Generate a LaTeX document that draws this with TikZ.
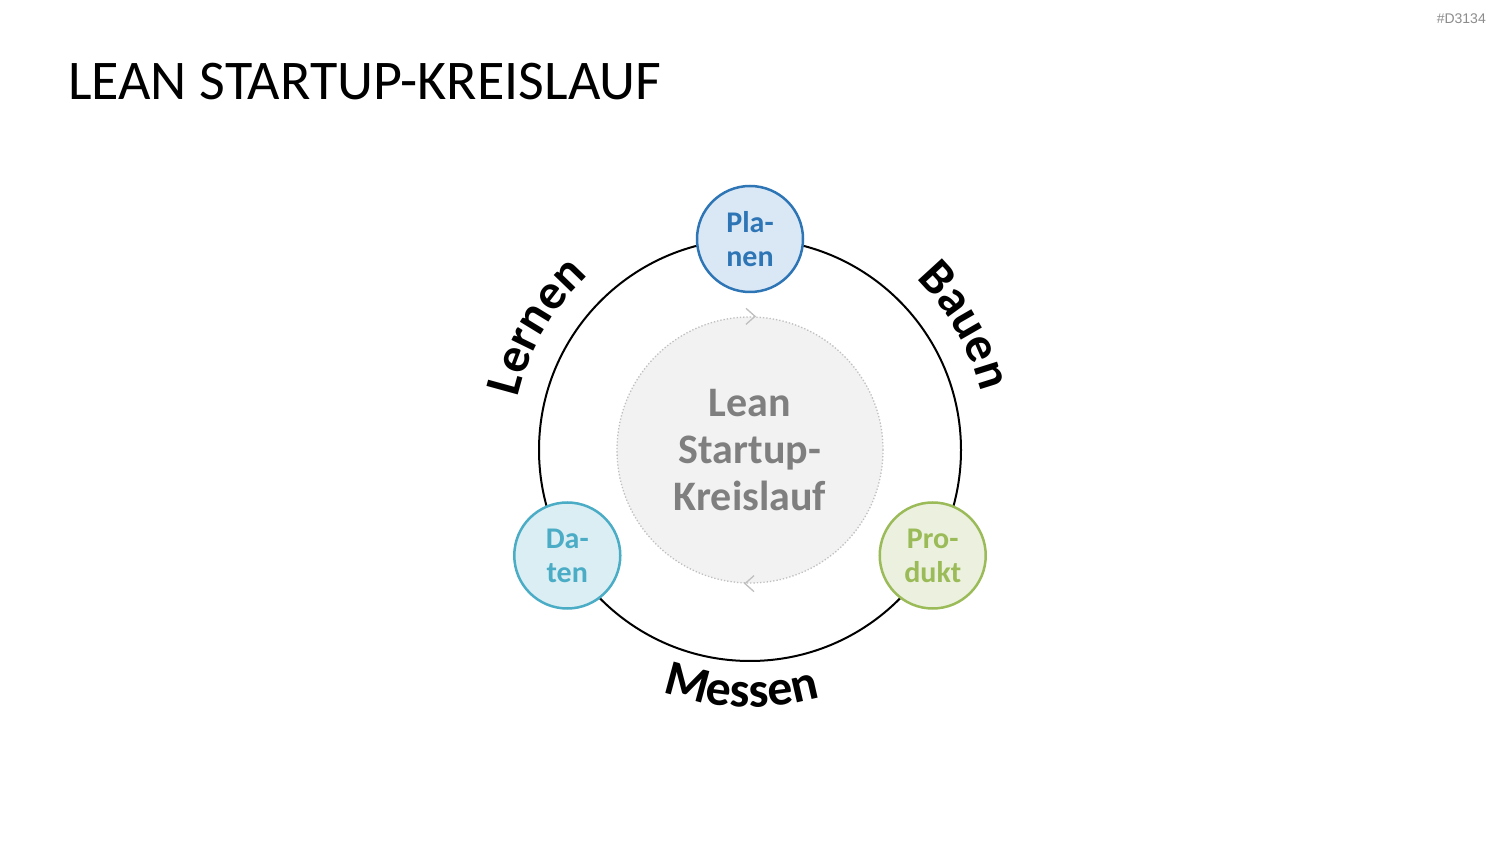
\documentclass[tikz,border=0pt]{standalone}
\usepackage{fontspec}
\setmainfont{Carlito}
\newfontfamily\tagfont{Liberation Sans}
\usetikzlibrary{decorations.text,calc}
\definecolor{planC}{HTML}{2E75B6}
\definecolor{planF}{HTML}{DAE8F6}
\definecolor{datC}{HTML}{4BACC6}
\definecolor{datF}{HTML}{DAEEF3}
\definecolor{proC}{HTML}{9BBB59}
\definecolor{proF}{HTML}{EBF1DE}
\definecolor{innerF}{HTML}{F2F2F2}
\definecolor{innerD}{HTML}{BFBFBF}
\definecolor{innerT}{HTML}{7F7F7F}
\definecolor{tagC}{HTML}{8C8C8C}
\newcommand\curvefont{\fontsize{50}{54}\selectfont\bfseries}
\begin{document}
\begin{tikzpicture}[x=1pt,y=1pt,
  stagebox/.style={circle, draw=#1, line width=2.5pt, minimum size=106pt,
    inner sep=0pt, align=center, font=\fontsize{30}{34}\selectfont\bfseries, text=#1},
  ringbox/.style={circle, draw=black, line width=2pt, minimum size=422pt, inner sep=0pt},
  corebox/.style={circle, fill=innerF, draw=innerD, dotted, line width=1.3pt,
    minimum size=266pt, inner sep=0pt, align=center, text=innerT,
    font=\fontsize{42}{47}\selectfont\bfseries},
  chev/.style={draw=innerD, line width=1.3pt},
  curvelabel/.style={decorate, decoration={text along path, text={|\curvefont|#1}, text align=center}}
]
\useasboundingbox (0,0) rectangle (1500,844);
\fill[white] (0,0) rectangle (1500,844);

\node[anchor=base east, inner sep=0pt, text=tagC, font=\tagfont\fontsize{14}{14}\selectfont] (tag) at (1486,820) {\#D3134};
\node[anchor=base west, inner sep=0pt, font=\fontsize{56}{60}\selectfont] (title) at (68,744) {LEAN STARTUP-KREISLAUF};

\coordinate (c) at (750,394);
\node[ringbox] (ring) at (c) {};
\node[corebox] (core) at (c) {Lean\\Startup-\\Kreislauf};

\draw[chev] ([shift={(-4,8)}]core.north) -- ([shift={(5,0)}]core.north) -- ([shift={(-4,-8)}]core.north);
\draw[chev] ([shift={(4,8)}]core.south) -- ([shift={(-5,0)}]core.south) -- ([shift={(4,-8)}]core.south);

\node[stagebox=planC, fill=planF] (plan) at ($(c)+(90:211)$) {Pla-\\nen};
\node[stagebox=datC, fill=datF] (daten) at ($(c)+(210:211)$) {Da-\\ten};
\node[stagebox=proC, fill=proF] (prod) at ($(c)+(330:211)$) {Pro-\\dukt};

\path[curvelabel=Lernen] ($(c)+(190:238)$) arc[start angle=190, end angle=110, radius=238];
\path[curvelabel=Bauen] ($(c)+(70:238)$) arc[start angle=70, end angle=-10, radius=238];
\path[curvelabel=Messen] ($(c)+(228:257)$) arc[start angle=228, end angle=308, radius=257];
\end{tikzpicture}
\end{document}
